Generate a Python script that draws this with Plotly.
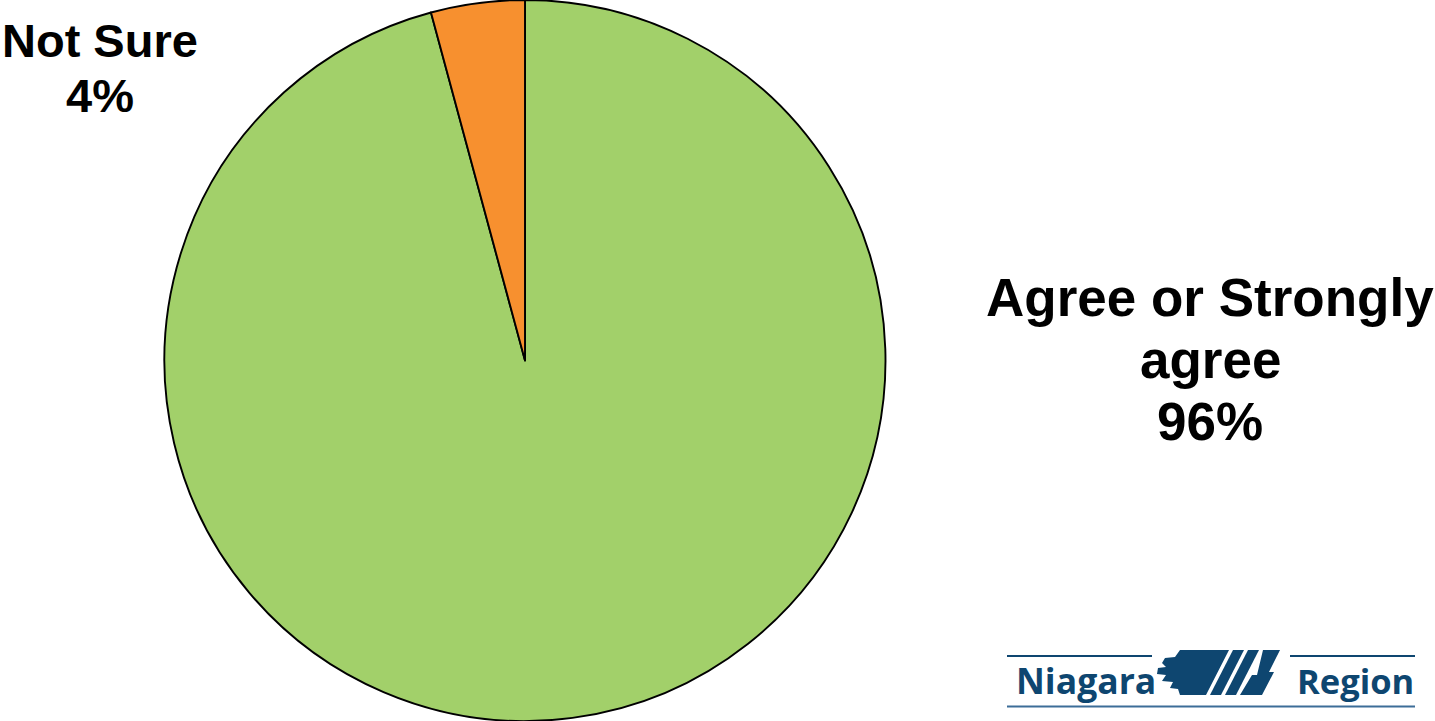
import plotly.graph_objects as go

# ---- data ----
categories = ["Agree or Strongly agree", "Not Sure"]
label_lines = [["Agree or Strongly", "agree"], ["Not Sure"]]
values = [95.8, 4.2]
colors = ["#A2D06A", "#F7902F"]

W, H = 1435, 721

def px(x):
    return x / W

def py(y):
    return 1 - y / H

fig = go.Figure()
cx, r = 525, 361
fig.add_trace(go.Pie(
    labels=categories,
    values=values,
    sort=False,
    direction="clockwise",
    rotation=0,
    textinfo="none",
    hoverinfo="label+percent",
    marker=dict(colors=colors, line=dict(color="#000000", width=1.9)),
    domain=dict(x=[px(cx - r), px(cx + r)], y=[0, 1]),
    showlegend=False,
))

total = sum(values)
annotations = []
# label positions (centre x, first line cap-centre y, line step, font size)
label_pos = [(1210, 297, 62, 53), (100, 41, 55, 47)]
for lines, v, (lx, ly, step, fs) in zip(label_lines, values, label_pos):
    texts = lines + [f"{round(v / total * 100)}%"]
    for i, t in enumerate(texts):
        annotations.append(dict(
            text=f"<b>{t}</b>", x=px(lx), y=py(ly + i * step),
            xref="paper", yref="paper", xanchor="center", yanchor="middle",
            showarrow=False,
            font=dict(family="Liberation Sans, Arial, sans-serif", size=fs, color="#000000"),
        ))

# ---- logo ----
logo_blue = "#0E4670"
line_blue = "#3C6D98"
annotations.append(dict(text="<b>Niagara</b>", x=px(1014), y=py(680), xref="paper", yref="paper",
                        xanchor="left", yanchor="middle", showarrow=False,
                        font=dict(family="Open Sans, sans-serif", size=35.5, color=logo_blue)))
annotations.append(dict(text="<b>Region</b>", x=px(1295), y=py(680), xref="paper", yref="paper",
                        xanchor="left", yanchor="middle", showarrow=False,
                        font=dict(family="Open Sans, sans-serif", size=34.5, color=logo_blue)))

def path(pts):
    s = "M " + " L ".join(f"{px(x):.5f},{py(y):.5f}" for x, y in pts) + " Z"
    return s

main_block = [(1180, 650), (1229, 650), (1206, 695), (1180, 695), (1178, 689), (1170, 688),
              (1173, 682), (1162, 681), (1166, 675), (1157, 674), (1158, 668), (1166, 667),
              (1162, 663), (1165, 658), (1175, 657)]
slash1 = [(1233, 650), (1244, 650), (1221, 695), (1210, 695)]
slash2 = [(1248, 650), (1259, 650), (1236, 695), (1225, 695)]
bolt = [(1263, 650), (1280, 650), (1269, 672), (1274, 672), (1262, 695), (1240, 695),
        (1252, 675), (1257, 675)]

shapes = []
for pts in (main_block, slash1, slash2, bolt):
    shapes.append(dict(type="path", path=path(pts), xref="paper", yref="paper",
                       fillcolor=logo_blue, line=dict(width=0)))
for x0, x1, y, c in [(1007, 1152, 656, logo_blue), (1290, 1415, 656, logo_blue),
                     (1007, 1415, 706.5, line_blue)]:
    shapes.append(dict(type="line", x0=px(x0), x1=px(x1), y0=py(y), y1=py(y),
                       xref="paper", yref="paper", line=dict(color=c, width=2)))

fig.update_layout(
    width=W, height=H,
    margin=dict(l=0, r=0, t=0, b=0),
    paper_bgcolor="#FFFFFF", plot_bgcolor="#FFFFFF",
    annotations=annotations, shapes=shapes,
)

fig.write_html(
    "out.html",
    config={"displayModeBar": False},
    post_script="document.body.style.margin='0';document.body.style.overflow='hidden';"
                "document.documentElement.style.overflow='hidden';",
)
